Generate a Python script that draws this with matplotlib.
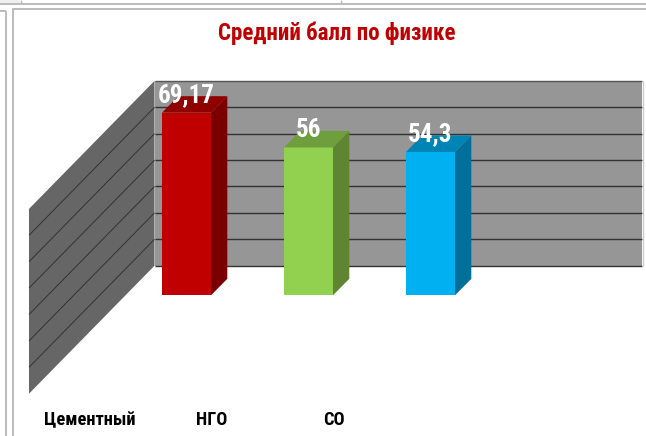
#!/usr/bin/env python3
"""Средний балл по физике - псевдо-3D столбцы на сером фоне"""

import matplotlib
matplotlib.use('Agg')
import matplotlib.pyplot as plt
from matplotlib.lines import Line2D
from matplotlib.patches import Polygon

title = 'Средний балл по физике'
categories = ['Цементный', 'НГО', 'СО']
values = [69.17, 56, 54.3]
value_labels = ['69,17', '56', '54,3']
grid_values = [0, 10, 20, 30, 40, 50, 60, 70]

front_colors = ['#C00000', '#92D050', '#00B0F0']
side_colors = ['#7A0000', '#5F8532', '#00709B']
top_colors = ['#8F0000', '#6F9E3D', '#0084B5']

WIDTH, HEIGHT = 646, 436
PX_CAT = 122.0    # пикселей на категорию
PX_VAL = 2.64     # пикселей на единицу значения
X0, Y0 = 186.5, 295.3    # центр первого столбца и его основание

plt.rcParams['font.family'] = ['Roboto Condensed', 'Liberation Sans', 'DejaVu Sans']

fig = plt.figure(figsize=(WIDTH / 100, HEIGHT / 100), dpi=100)
ax = fig.add_axes([0, 0, 1, 1])
ax.set_xlim(-X0 / PX_CAT, (WIDTH - X0) / PX_CAT)
ax.set_ylim((Y0 - HEIGHT) / PX_VAL, Y0 / PX_VAL)
ax.axis('off')

# смещения глубины в единицах осей
bar_w = 49 / PX_CAT
bar_dx, bar_dy = 16.3 / PX_CAT, 16.5 / PX_VAL
back_left = -32 / PX_CAT
back_right = 455.5 / PX_CAT
back_base = 29.6 / PX_VAL
side_dx, side_dy = 125.5 / PX_CAT, 128 / PX_VAL
top_value = grid_values[-1]

# стены
ax.add_patch(Polygon(
    [(back_left, back_base), (back_right, back_base),
     (back_right, back_base + top_value), (back_left, back_base + top_value)],
    closed=True, fc='#969696', ec='none', zorder=1))
ax.add_patch(Polygon(
    [(back_left, back_base), (back_left, back_base + top_value),
     (back_left - side_dx, back_base + top_value - side_dy), (back_left - side_dx, back_base - side_dy)],
    closed=True, fc='#666666', ec='none', zorder=1))

# линии сетки
for g in grid_values:
    y = back_base + g
    ax.plot([back_left, back_right], [y, y], color='#333333' if g < top_value else '#555555',
            lw=1.0, solid_capstyle='butt', zorder=2)
    if 0 < g < top_value:
        ax.plot([back_left, back_left - side_dx], [y, y - side_dy], color='#333333',
                lw=0.7, solid_capstyle='butt', zorder=2)

# столбцы
for i, v in enumerate(values):
    x1, x2 = i - bar_w / 2, i + bar_w / 2
    ax.add_patch(Polygon([(x1, 0), (x2, 0), (x2, v), (x1, v)], closed=True,
                         fc=front_colors[i], ec='none', zorder=4))
    ax.add_patch(Polygon([(x2, 0), (x2 + bar_dx, bar_dy), (x2 + bar_dx, v + bar_dy), (x2, v)], closed=True,
                         fc=side_colors[i], ec='none', zorder=4))
    ax.add_patch(Polygon([(x1, v), (x2, v), (x2 + bar_dx, v + bar_dy), (x1 + bar_dx, v + bar_dy)], closed=True,
                         fc=top_colors[i], ec='none', zorder=4))
    ax.text(i, v + 4, value_labels[i], color='white', fontsize=18, fontweight='bold',
            ha='center', va='baseline', zorder=5)
    ax.text(i - 96.5 / PX_CAT, -47.2, categories[i], color='black', fontsize=13.2, fontweight='bold',
            ha='center', va='center', zorder=5)

ax.text(0.5 * (218 + 455) / WIDTH, 1 - 33 / HEIGHT, title, transform=ax.transAxes,
        color='#C00000', fontsize=16.6, fontweight='bold', ha='center', va='center')


def chrome(x1, y1, x2, y2, color='#BBBBBB', lw=1.4):
    """Рамка скриншота, координаты в пикселях"""
    fig.add_artist(Line2D([x1 / WIDTH, x2 / WIDTH], [1 - y1 / HEIGHT, 1 - y2 / HEIGHT],
                          color=color, lw=lw, solid_capstyle='butt'))


chrome(0, 2, 20, 2, color='#F0F0F0', lw=3)
chrome(0, 4.5, WIDTH, 4.5)
chrome(13, 8.7, WIDTH, 8.7)
chrome(0, 11.5, 6, 11.5)
chrome(5.5, 11, 5.5, HEIGHT)
chrome(13.5, 8, 13.5, HEIGHT)
chrome(20.5, 0, 20.5, 4, lw=1.0)
chrome(341, 0, 341, 4, lw=1.0)
chrome(642.5, 81, 642.5, 266, color='#CCCCCC', lw=1.0)

fig.savefig('out.png', dpi=100)
